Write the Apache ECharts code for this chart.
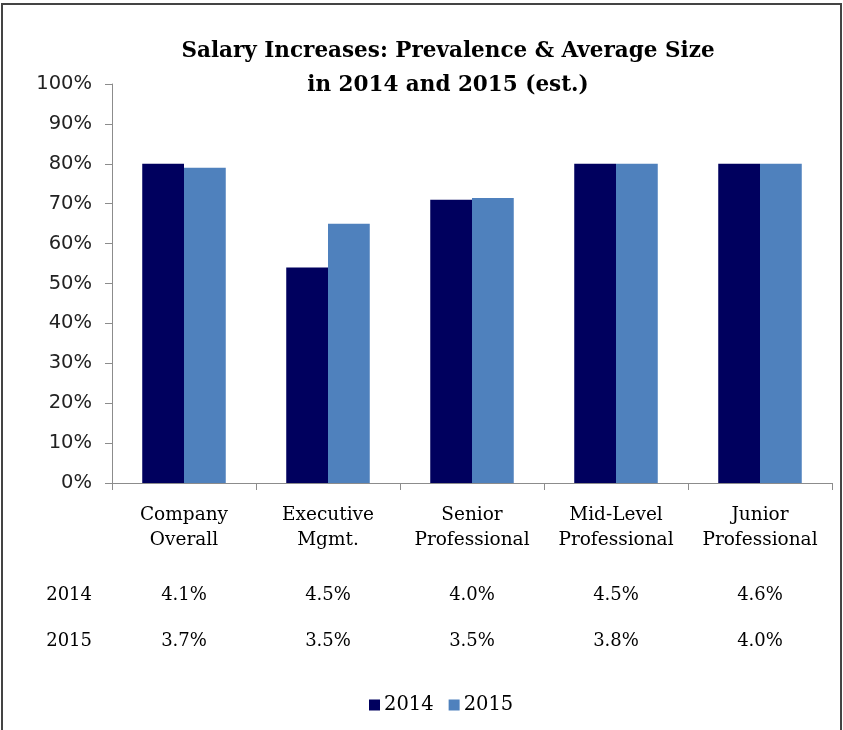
<!DOCTYPE html>
<html>
<head>
<meta charset="utf-8">
<script src="https://cdn.jsdelivr.net/npm/echarts@6/dist/echarts.min.js"></script>
<style>
  html, body { margin: 0; padding: 0; background: #fff; }
  #chart { width: 843px; height: 730px; }
</style>
</head>
<body>
<div id="chart"></div>
<script>
var categories = ["Company\nOverall", "Executive\nMgmt.", "Senior\nProfessional", "Mid-Level\nProfessional", "Junior\nProfessional"];
var prevalence2014 = [80, 54, 71, 80, 80];
var prevalence2015 = [79, 65, 71.4, 80, 80];
var avgSize2014 = ["4.1%", "4.5%", "4.0%", "4.5%", "4.6%"];
var avgSize2015 = ["3.7%", "3.5%", "3.5%", "3.8%", "4.0%"];
var yTicks = [0, 10, 20, 30, 40, 50, 60, 70, 80, 90, 100];

var serif = "DejaVu Serif";
var chart = echarts.init(document.getElementById("chart"));

function tableAxis(name, values, offset) {
  return {
    type: "category",
    position: "bottom",
    offset: offset,
    data: values,
    name: name,
    nameLocation: "start",
    nameGap: 20,
    nameTextStyle: { fontFamily: serif, fontSize: 18, color: "#000", verticalAlign: "top", align: "right" },
    axisLine: { show: false },
    axisTick: { show: false },
    axisLabel: { margin: 0, fontFamily: serif, fontSize: 18, color: "#000" }
  };
}

chart.setOption({
  animation: false,
  color: ["#00005E", "#4F81BD"],
  title: {
    text: "Salary Increases: Prevalence & Average Size\nin 2014 and 2015 (est.)",
    left: 443,
    textAlign: "center",
    top: 29,
    textStyle: { fontFamily: serif, fontWeight: "bold", fontSize: 21.5, lineHeight: 34, color: "#000" }
  },
  legend: {
    data: ["2014", "2015"],
    left: 364,
    top: 690,
    icon: "rect",
    itemWidth: 11,
    itemHeight: 11,
    itemGap: 15,
    textStyle: { fontFamily: serif, fontSize: 19.5, color: "#000", padding: [0, 0, 0, -1] }
  },
  grid: { left: 112, right: 11, top: 84, bottom: 247 },
  graphic: [{
    type: "rect",
    shape: { x: 2, y: 4, width: 839, height: 730 },
    style: { fill: null, stroke: "#444", lineWidth: 2 },
    silent: true
  }],
  xAxis: [
    {
      type: "category",
      data: categories,
      axisLine: { lineStyle: { color: "#8c8c8c" } },
      axisTick: { show: true, length: 7, lineStyle: { color: "#8c8c8c" } },
      axisLabel: { margin: 20, fontFamily: serif, fontSize: 18.5, lineHeight: 25, color: "#000", interval: 0 }
    },
    tableAxis("2014", avgSize2014, 103),
    tableAxis("2015", avgSize2015, 149)
  ],
  yAxis: {
    type: "value",
    min: 0,
    max: 100,
    interval: 10,
    splitLine: { show: false },
    axisLine: { show: true, lineStyle: { color: "#8c8c8c" } },
    axisTick: { show: true, length: 7, lineStyle: { color: "#8c8c8c" } },
    axisLabel: {
      margin: 20,
      fontFamily: "DejaVu Sans",
      fontSize: 19.5,
      color: "#222",
      formatter: function (v) { return yTicks.indexOf(v) >= 0 ? v + "%" : ""; }
    }
  },
  series: [
    { name: "2014", type: "bar", data: prevalence2014, barGap: "0%", barCategoryGap: "42%" },
    { name: "2015", type: "bar", data: prevalence2015 }
  ]
});
</script>
</body>
</html>
